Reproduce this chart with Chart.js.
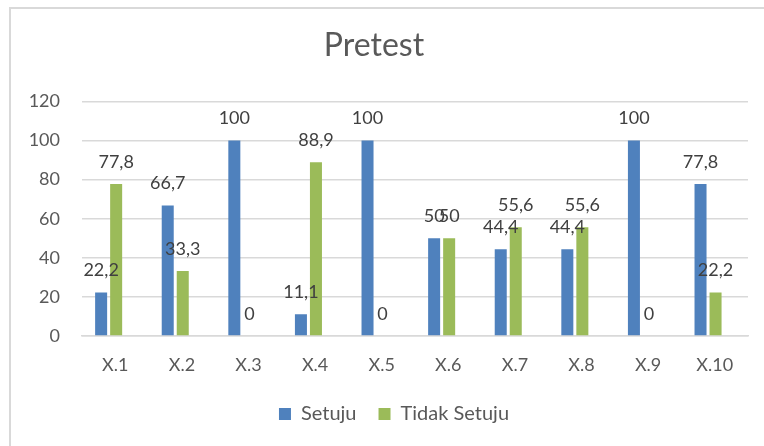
<!DOCTYPE html>
<html>
<head>
<meta charset="utf-8">
<script src="https://cdn.jsdelivr.net/npm/chart.js@4/dist/chart.umd.min.js"></script>
<style>
  html, body { margin: 0; padding: 0; background: #ffffff; }
  #wrap { position: relative; width: 764px; height: 446px; overflow: hidden; background: #fff; }
  #frame { position: absolute; left: 9px; top: 7px; width: 900px; height: 600px;
           border-left: 2px solid #d9d9d9; border-top: 2px solid #d9d9d9; }
  #box { position: absolute; left: 0; top: 0; width: 764px; height: 446px; }
</style>
</head>
<body>
<div id="wrap">
  <div id="frame"></div>
  <div id="box"><canvas id="c"></canvas></div>
</div>
<script>
const titleText = "Pretest";
const categories = ["X.1", "X.2", "X.3", "X.4", "X.5", "X.6", "X.7", "X.8", "X.9", "X.10"];
const seriesNames = ["Setuju", "Tidak Setuju"];
const setuju = [22.2, 66.7, 100, 11.1, 100, 50, 44.4, 44.4, 100, 77.8];
const tidakSetuju = [77.8, 33.3, 0, 88.9, 0, 50, 55.6, 55.6, 0, 22.2];
const yTicks = [0, 20, 40, 60, 80, 100, 120];

const TEXT = "#595959";
const FONT = "Lato, 'Open Sans', sans-serif";

function fmt(v) { return String(v).replace(".", ","); }
function pts(arr) { return arr.map((v, i) => ({ x: i, y: v })); }

const dataLabels = {
  id: "dataLabels",
  afterDatasetsDraw(chart) {
    const ctx = chart.ctx;
    ctx.save();
    ctx.font = "18px " + FONT;
    ctx.fillStyle = "#404040";
    ctx.textAlign = "center";
    ctx.textBaseline = "middle";
    chart.data.datasets.forEach((ds, di) => {
      const meta = chart.getDatasetMeta(di);
      meta.data.forEach((el, i) => {
        ctx.fillText(fmt(ds.data[i].y), el.x, el.y - 22);
      });
    });
    ctx.restore();
  }
};

const legendShift = {
  id: "legendShift",
  afterLayout(chart) {
    if (chart.legend) { chart.legend.left += 20; chart.legend.right += 20; }
  }
};

new Chart(document.getElementById("c"), {
  type: "bar",
  data: {
    labels: categories,
    datasets: [
      { label: seriesNames[0], data: pts(setuju), backgroundColor: "#4F81BD", xAxisID: "xb",
        categoryPercentage: 0.451, barPercentage: 0.8 },
      { label: seriesNames[1], data: pts(tidakSetuju), backgroundColor: "#9BBB59", xAxisID: "xb",
        categoryPercentage: 0.451, barPercentage: 0.8 }
    ]
  },
  options: {
    responsive: true,
    maintainAspectRatio: false,
    animation: false,
    layout: { padding: { left: 0, right: 16, top: 0, bottom: 12 } },
    plugins: {
      tooltip: { enabled: false },
      title: {
        display: true, text: titleText, color: TEXT,
        font: { family: FONT, size: 32, weight: "normal" },
        padding: { top: 26, bottom: 37 }
      },
      legend: {
        position: "bottom",
        labels: {
          color: TEXT, boxWidth: 12, boxHeight: 12, padding: 22,
          font: { family: FONT, size: 20 }
        }
      }
    },
    scales: {
      x: {
        type: "category",
        offset: true,
        grid: { display: false, drawTicks: false },
        border: { display: true, color: "#d9d9d9", width: 1.5 },
        ticks: { color: TEXT, font: { family: FONT, size: 18 }, padding: 18 },
        afterFit(s) { s.height = 46; }
      },
      xb: {
        type: "linear",
        display: false,
        offset: false,
        min: -0.4,
        max: 9.6
      },
      y: {
        min: 0, max: 120,
        afterBuildTicks(s) { s.ticks = yTicks.map(v => ({ value: v })); },
        grid: { color: "#d9d9d9", lineWidth: 1.5, drawTicks: false },
        border: { display: false },
        ticks: { color: TEXT, font: { family: FONT, size: 18 }, padding: 22 },
        afterFit(s) { s.width = 82; }
      }
    }
  },
  plugins: [dataLabels, legendShift]
});
</script>
</body>
</html>
